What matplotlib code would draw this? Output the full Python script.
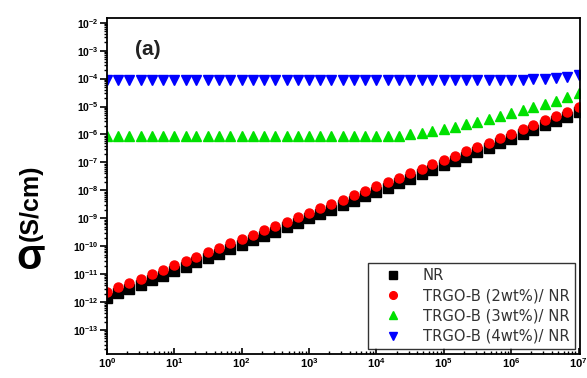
import matplotlib
matplotlib.use("Agg")
import matplotlib.pyplot as plt
from matplotlib.ticker import LogLocator, NullFormatter

plt.rcParams["font.family"] = ["Liberation Sans", "DejaVu Sans"]
plt.rcParams["font.weight"] = "bold"
plt.rcParams["mathtext.fontset"] = "custom"
plt.rcParams["mathtext.rm"] = "Liberation Sans:bold"
plt.rcParams["mathtext.bf"] = "Liberation Sans:bold"

# frequency exponents, 6 points per decade from 10^0 to 10^7
LOG_F = [0.0, 0.17, 0.33, 0.5, 0.67, 0.83, 1.0, 1.17, 1.33, 1.5, 1.67, 1.83,
         2.0, 2.17, 2.33, 2.5, 2.67, 2.83, 3.0, 3.17, 3.33, 3.5, 3.67, 3.83,
         4.0, 4.17, 4.33, 4.5, 4.67, 4.83, 5.0, 5.17, 5.33, 5.5, 5.67, 5.83,
         6.0, 6.17, 6.33, 6.5, 6.67, 6.83, 7.0]

# log10 conductivity (S/cm)
NR = [-11.85, -11.69, -11.53, -11.38, -11.22, -11.06, -10.90, -10.74, -10.58,
      -10.43, -10.27, -10.11, -9.95, -9.79, -9.64, -9.48, -9.32, -9.16, -9.00,
      -8.84, -8.69, -8.53, -8.37, -8.21, -8.05, -7.90, -7.74, -7.58, -7.42,
      -7.26, -7.11, -6.95, -6.79, -6.63, -6.47, -6.31, -6.16, -6.00, -5.84,
      -5.68, -5.52, -5.37, -5.21]
TRGO2 = [-11.63, -11.47, -11.32, -11.16, -11.00, -10.84, -10.69, -10.53, -10.37,
         -10.22, -10.06, -9.90, -9.74, -9.59, -9.43, -9.27, -9.12, -8.96, -8.80,
         -8.65, -8.49, -8.33, -8.17, -8.02, -7.86, -7.70, -7.55, -7.39, -7.23,
         -7.07, -6.92, -6.76, -6.60, -6.45, -6.29, -6.13, -5.97, -5.82, -5.66,
         -5.50, -5.35, -5.19, -5.03]
TRGO3 = [-6.07, -6.07, -6.07, -6.07, -6.07, -6.07, -6.07, -6.07, -6.07,
         -6.07, -6.07, -6.07, -6.07, -6.07, -6.07, -6.07, -6.07, -6.07, -6.07,
         -6.07, -6.07, -6.07, -6.07, -6.06, -6.06, -6.05, -6.04, -6.00, -5.94,
         -5.87, -5.80, -5.72, -5.64, -5.55, -5.45, -5.35, -5.25, -5.14, -5.03,
         -4.91, -4.79, -4.66, -4.53]
TRGO4 = [-4.05, -4.05, -4.05, -4.05, -4.05, -4.05, -4.05, -4.05, -4.05,
         -4.05, -4.05, -4.05, -4.05, -4.05, -4.05, -4.05, -4.05, -4.05, -4.05,
         -4.05, -4.05, -4.05, -4.05, -4.05, -4.05, -4.05, -4.05, -4.05, -4.05,
         -4.05, -4.05, -4.05, -4.05, -4.05, -4.05, -4.05, -4.05, -4.04, -4.03,
         -4.01, -3.98, -3.94, -3.89]

SERIES = [
    ("NR", NR, "s", "black"),
    ("TRGO-B (2wt%)/ NR", TRGO2, "o", "red"),
    ("TRGO-B (3wt%)/ NR", TRGO3, "^", "#00e000"),
    ("TRGO-B (4wt%)/ NR", TRGO4, "v", "blue"),
]


def main():
    fig = plt.figure(figsize=(5.87, 3.78), dpi=100)
    ax = fig.add_axes([0.182, 0.0635, 0.806, 0.889])

    freq = [10 ** v for v in LOG_F]
    for label, vals, mk, col in SERIES:
        ax.plot(freq, [10 ** v for v in vals], ls="", marker=mk, ms=6.5,
                color=col, mec=col, label=label)

    ax.set_xscale("log"); ax.set_yscale("log")
    ax.set_xlim(1, 1.05e7)
    ax.set_ylim(10 ** -13.86, 10 ** -1.83)

    ax.xaxis.set_major_locator(LogLocator(base=10, numticks=10))
    ax.xaxis.set_minor_locator(LogLocator(base=10, subs=range(2, 10), numticks=20))
    ax.xaxis.set_minor_formatter(NullFormatter())
    ax.yaxis.set_major_locator(LogLocator(base=10, numticks=20))
    ax.yaxis.set_minor_locator(LogLocator(base=10, subs=range(2, 10), numticks=30))
    ax.yaxis.set_minor_formatter(NullFormatter())

    ax.tick_params(axis="x", which="both", direction="in", top=False, labelsize=8, pad=1.5)
    ax.tick_params(axis="x", which="major", length=4, width=1.2)
    ax.tick_params(axis="x", which="minor", length=2.5, width=1)
    ax.tick_params(axis="y", which="both", direction="out", right=False, labelsize=7.5, pad=1)
    ax.tick_params(axis="y", which="major", length=5, width=1.2)
    ax.tick_params(axis="y", which="minor", length=2.5, width=1)
    for s in ax.spines.values():
        s.set_linewidth(1.3)

    ax.text(0.087, 0.905, "(a)", transform=ax.transAxes, fontsize=15,
            fontweight="bold", color="#222", ha="center", va="center")

    # y label: upright sigma, rotated unit
    fig.text(0.053, 0.318, "σ", fontsize=30, fontweight="bold",
             ha="center", va="center")
    fig.text(0.053, 0.463, "(S/cm)", rotation=90, fontsize=18, fontweight="bold",
             ha="center", va="center")

    leg = ax.legend(loc="lower right", frameon=True, fancybox=False,
                    edgecolor="black", borderaxespad=0.35, handletextpad=0.6,
                    handlelength=2.8, labelspacing=0.36, borderpad=0.35,
                    markerscale=0.85,
                    prop={"family": "DejaVu Sans", "size": 10.6, "weight": "normal"})
    leg.get_frame().set_linewidth(1.0)
    for t in leg.get_texts():
        t.set_color("#333")

    fig.savefig("out.png", dpi=100)


if __name__ == "__main__":
    main()
